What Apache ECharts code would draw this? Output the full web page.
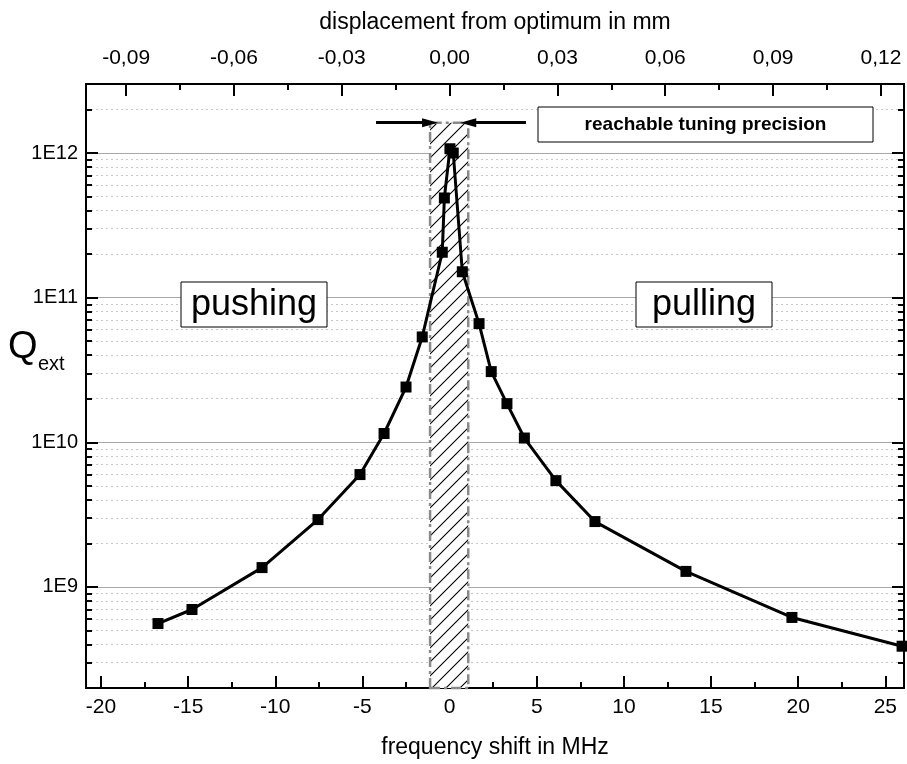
<!DOCTYPE html>
<html><head><meta charset="utf-8">
<script src="https://cdn.jsdelivr.net/npm/echarts@6/dist/echarts.min.js"></script>
<style>html,body{margin:0;padding:0;background:#fff}#c{width:907px;height:764px}</style>
</head><body><div id="c"></div>
<script>
// ---- data ----
const freqShift = [-16.73,-14.78,-10.76,-7.55,-5.14,-3.76,-2.50,-1.57,-0.42,-0.30,0.02,0.21,0.73,1.69,2.39,3.29,4.29,6.10,8.34,13.56,19.64,25.96];
const qExt = [5.58e8,6.98e8,1.36e9,2.92e9,5.98e9,1.15e10,2.41e10,5.35e10,2.06e11,4.89e11,1.07e12,1.0e12,1.51e11,6.61e10,3.08e10,1.85e10,1.07e10,5.43e9,2.83e9,1.28e9,6.15e8,3.89e8];
const freqTicks = [-20,-15,-10,-5,0,5,10,15,20,25];
const freqMinorTicks = [-17.5,-12.5,-7.5,-2.5,2.5,7.5,12.5,17.5,22.5];
const mmTicks = [-0.09,-0.06,-0.03,0,0.03,0.06,0.09,0.12];
const mmMinorTicks = [-0.075,-0.045,-0.015,0.015,0.045,0.075,0.105];
const qMajorTicks = [1e9,1e10,1e11,1e12];
const qMinorTicks = [2e8,3e8,4e8,5e8,6e8,7e8,8e8,9e8,
  2e9,3e9,4e9,5e9,6e9,7e9,8e9,9e9,
  2e10,3e10,4e10,5e10,6e10,7e10,8e10,9e10,
  2e11,3e11,4e11,5e11,6e11,7e11,8e11,9e11,
  2e12];
const freqRange = [-20.86, 26.07];
const qRange = [2e8, 3e12];
const mhzPerMm = 206.2;
const tuningBand = [-1.12, 1.07];
const bandTop = 1.62e12;
const arrowLeft = [-4.22, -1.12];
const arrowRight = [4.38, 1.07];

const FONT = '"Liberation Sans", Arial, sans-serif';

// hatch pattern
const pc = document.createElement('canvas');
pc.width = 14; pc.height = 14;
const g = pc.getContext('2d');
g.fillStyle = '#fff'; g.fillRect(0,0,14,14);
g.strokeStyle = '#000'; g.lineWidth = 1.1;
g.beginPath();
g.moveTo(-1,15); g.lineTo(15,-1);
g.moveTo(-8,8); g.lineTo(8,-8);
g.moveTo(6,22); g.lineTo(22,6);
g.stroke();

const chart = echarts.init(document.getElementById('c'), null, {renderer:'canvas'});

const blackLine = {show:true, onZero:false, lineStyle:{color:'#000', width:2}};
function xAx(pos, min, max, ticks, len, labels, fmt, extra){
  return Object.assign({
    type:'value', position:pos, min:min, max:max, offset:0,
    axisLine: blackLine,
    axisTick:{show:true, inside:true, length:len, customValues:ticks, lineStyle:{color:'#000', width:2}},
    axisLabel: labels ? {show:true, customValues:ticks, formatter:fmt, fontSize:21, color:'#000', fontFamily:FONT, margin: pos==='top'?15:9} : {show:false},
    splitLine:{show:false}
  }, extra||{});
}
const mmFmt = v => v.toFixed(2).replace('.', ',');
const mmRange = [freqRange[0]/mhzPerMm, freqRange[1]/mhzPerMm];

function yAx(pos, ticks, len, labels, split){
  return {
    type:'log', logBase:10, min:qRange[0], max:qRange[1], position:pos, offset:0,
    axisLine: blackLine,
    axisTick:{show:true, inside:true, length:len, customValues:ticks, lineStyle:{color:'#000', width:2}},
    axisLabel: labels ? {show:true, customValues:ticks, fontSize:20, color:'#000', fontFamily:FONT, margin:8,
       formatter: v => '1E' + Math.round(Math.log10(v))} : {show:false},
    splitLine: split
  };
}

chart.setOption({
  animation:false,
  backgroundColor:'#fff',
  grid:{left:86, top:84, width:818, height:605, containLabel:false},
  xAxis:[
    xAx('bottom', freqRange[0], freqRange[1], freqTicks, 12, true, v => String(v),
        {name:'frequency shift in MHz', nameLocation:'middle', nameGap:48,
         nameTextStyle:{fontSize:23, color:'#000', fontFamily:FONT}}),
    xAx('bottom', freqRange[0], freqRange[1], freqMinorTicks, 6, false),
    xAx('top', mmRange[0], mmRange[1], mmTicks, 12, true, mmFmt,
        {name:'displacement from optimum in mm', nameLocation:'middle', nameGap:50,
         nameTextStyle:{fontSize:23, color:'#000', fontFamily:FONT}}),
    xAx('top', mmRange[0], mmRange[1], mmMinorTicks, 6, false)
  ],
  yAxis:[
    yAx('left', qMajorTicks, 12, true, {show:true, lineStyle:{color:'#a8a8a8', width:1, type:'solid'}}),
    yAx('left', qMinorTicks, 6, false, {show:true, lineStyle:{color:'#c8c8c8', width:1, type:[2,3]}}),
    yAx('right', qMajorTicks, 12, false, {show:false}),
    yAx('right', qMinorTicks, 6, false, {show:false})
  ],
  series:[
    {
      type:'scatter', xAxisIndex:0, yAxisIndex:0, data:[], z:2, silent:true,
      markArea:{silent:true, z:2,
        itemStyle:{color:{image:pc, repeat:'repeat'}, borderColor:'#8a8a8a', borderWidth:2.5, borderType:[10,4,3,4]},
        data:[[{xAxis:tuningBand[0], yAxis:qRange[0]},{xAxis:tuningBand[1], yAxis:bandTop}]]
      },
      markLine:{silent:true, z:6, symbol:['none','triangle'], symbolSize:[9,16], label:{show:false},
        lineStyle:{color:'#000', width:3, type:'solid'},
        data:[
          [{coord:[arrowLeft[0], bandTop]},{coord:[arrowLeft[1], bandTop]}],
          [{coord:[arrowRight[0], bandTop]},{coord:[arrowRight[1], bandTop]}]
        ]
      }
    },
    {
      type:'line', xAxisIndex:0, yAxisIndex:0, z:5,
      data: freqShift.map((x,i)=>[x, qExt[i]]),
      symbol:'rect', symbolSize:11, showSymbol:true,
      lineStyle:{color:'#000', width:3},
      itemStyle:{color:'#000'}
    }
  ],
  graphic:[
    {type:'rect', z:10, shape:{x:181,y:282,width:146,height:45}, style:{fill:'#fff', stroke:'#000', lineWidth:1}},
    {type:'text', z:11, style:{text:'pushing', x:254, y:305, align:'center', verticalAlign:'middle', font:'36px '+FONT, fill:'#000'}},
    {type:'rect', z:10, shape:{x:636,y:282,width:136,height:45}, style:{fill:'#fff', stroke:'#000', lineWidth:1}},
    {type:'text', z:11, style:{text:'pulling', x:704, y:305, align:'center', verticalAlign:'middle', font:'36px '+FONT, fill:'#000'}},
    {type:'rect', z:10, shape:{x:538,y:107,width:335,height:35}, style:{fill:'#fff', stroke:'#000', lineWidth:1}},
    {type:'text', z:11, style:{text:'reachable tuning precision', x:705.5, y:124.5, align:'center', verticalAlign:'middle', font:'bold 19px '+FONT, fill:'#000'}},
    {type:'text', z:11, style:{text:'Q', x:8, y:348, verticalAlign:'middle', font:'38px '+FONT, fill:'#000'}},
    {type:'text', z:11, style:{text:'ext', x:38, y:364, verticalAlign:'middle', font:'20px '+FONT, fill:'#000'}}
  ]
});
</script></body></html>
